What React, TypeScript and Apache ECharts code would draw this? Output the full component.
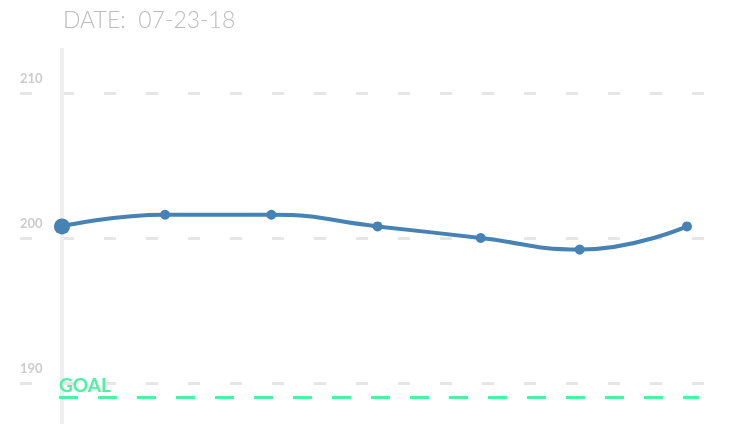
import React, { useEffect, useRef } from "react";
import * as echarts from "echarts";

const titleText = "DATE:  07-23-18";
const xPositions = [0, 0.99, 2.01, 3.03, 4.02, 4.97, 6];
const weights = [200.8, 201.6, 201.6, 200.8, 200.0, 199.2, 200.8];
const yTicks = [190, 200, 210];
const goalValue = 189;
const goalLabel = "GOAL";

export default function App() {
  const ref = useRef<HTMLDivElement>(null);
  useEffect(() => {
    if (!ref.current) return;
    const chart = echarts.init(ref.current, null, { renderer: "svg" });
    const lineData = xPositions.map((x, i) => ({
      value: [x, weights[i]],
      symbolSize: i === 0 ? 16 : 10,
    }));
    chart.setOption({
      animation: false,
      title: {
        text: titleText,
        left: 63,
        top: 7,
        padding: 0,
        textStyle: {
          fontFamily: "Lato",
          fontSize: 23,
          fontWeight: 300,
          color: "#bdbdbd",
        },
      },
      grid: { left: 20, right: 45, top: 48, bottom: 0 },
      xAxis: {
        type: "value",
        min: -0.403,
        max: 6.173,
        show: false,
      },
      yAxis: {
        type: "value",
        min: 187.172,
        max: 213.103,
        show: false,
      },
      series: [
        {
          type: "line",
          data: [],
          z: 1,
          markLine: {
            silent: true,
            symbol: "none",
            data: [
              ...yTicks.map((t) => ({
                yAxis: t,
                label: {
                  show: true,
                  formatter: String(t),
                  position: "insideStartTop",
                  distance: [0, 8],
                  color: "#cccccc",
                  fontFamily: "Lato",
                  fontWeight: "bold",
                  fontSize: 13,
                },
                lineStyle: {
                  type: [12, 30],
                  color: "#e6e6e6",
                  width: 3,
                },
              })),
              {
                xAxis: 0,
                label: { show: false },
                lineStyle: { type: "solid", color: "#eeeeee", width: 4 },
              },
              [
                {
                  coord: [-0.029, goalValue],
                  label: {
                    show: true,
                    formatter: goalLabel,
                    position: "insideStartTop",
                    distance: [0, 3],
                    color: "#4cf2a0",
                    fontFamily: "Lato",
                    fontWeight: "bold",
                    fontSize: 19,
                  },
                  lineStyle: {
                    type: [19, 20],
                    color: "#4cf2a0",
                    width: 3,
                  },
                },
                { coord: [6.115, goalValue] },
              ],
            ],
          },
        },
        {
          type: "line",
          data: lineData,
          smooth: 0.5,
          symbol: "circle",
          z: 5,
          lineStyle: { color: "#4682b4", width: 4 },
          itemStyle: { color: "#4682b4" },
        },
      ],
    });
    return () => chart.dispose();
  }, []);
  return (
    <div
      ref={ref}
      style={{ position: "fixed", left: 0, top: 0, width: 750, height: 424 }}
    />
  );
}
